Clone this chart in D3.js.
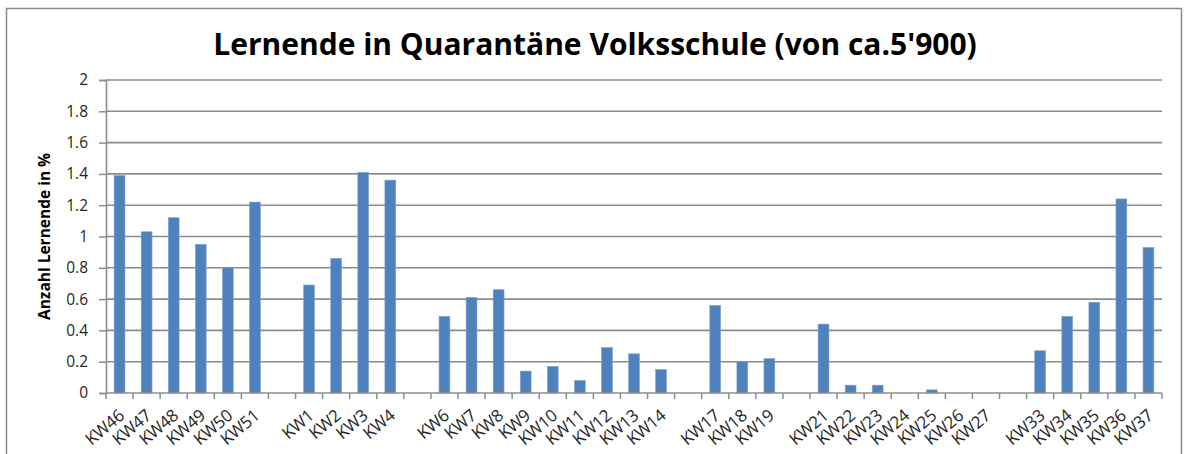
<!DOCTYPE html>
<html>
<head>
<meta charset="utf-8">
<script src="https://cdn.jsdelivr.net/npm/d3@7"></script>
<style>
  body { margin: 0; background: #fff; }
  text { font-family: "Open Sans", sans-serif; }
</style>
</head>
<body>
<svg id="chart" width="1186" height="454"></svg>
<script>
// categories (empty string = gap slot in the original sheet)
const weeks = ["KW46", "KW47", "KW48", "KW49", "KW50", "KW51", "",
    "KW1", "KW2", "KW3", "KW4", "",
    "KW6", "KW7", "KW8", "KW9", "KW10", "KW11", "KW12", "KW13", "KW14", "",
    "KW17", "KW18", "KW19", "",
    "KW21", "KW22", "KW23", "KW24", "KW25", "KW26", "KW27", "",
    "KW33", "KW34", "KW35", "KW36", "KW37"];
const shares = [1.39, 1.03, 1.12, 0.95, 0.80, 1.22, null,
    0.69, 0.86, 1.41, 1.36, null,
    0.49, 0.61, 0.66, 0.14, 0.17, 0.08, 0.29, 0.25, 0.15, null,
    0.56, 0.20, 0.22, null,
    0.44, 0.05, 0.05, 0, 0.02, 0, 0, null,
    0.27, 0.49, 0.58, 1.24, 0.93];
const yTicks = [0, 0.2, 0.4, 0.6, 0.8, 1, 1.2, 1.4, 1.6, 1.8, 2];

const title = "Lernende in Quarantäne Volksschule (von ca.5'900)";
const yLabel = "Anzahl Lernende in %";

const svg = d3.select("#chart");
const plot = { left: 106, right: 1162, top: 80, bottom: 393 };
const gridColor = "#8c8c8c";

// outer frame
svg.append("rect")
    .attr("x", 6.5).attr("y", 8.5)
    .attr("width", 1175).attr("height", 450)
    .attr("fill", "none")
    .attr("stroke", "#8a8a8a")
    .attr("stroke-width", 1.5);

const x = d3.scaleBand()
    .domain(d3.range(weeks.length))
    .range([plot.left, plot.right])
    .paddingInner(0.6)
    .paddingOuter(0.3);

const y = d3.scaleLinear()
    .domain([0, 2])
    .range([plot.bottom, plot.top]);

// gridlines
svg.append("g")
    .selectAll("line")
    .data(yTicks.filter(d => d > 0))
    .join("line")
    .attr("x1", plot.left).attr("x2", plot.right)
    .attr("y1", d => y(d)).attr("y2", d => y(d))
    .attr("stroke", gridColor)
    .attr("stroke-width", 1.6);

// y axis
const yAxis = svg.append("g")
    .attr("transform", `translate(${plot.left},0)`)
    .call(d3.axisLeft(y).tickValues(yTicks).tickSize(7).tickPadding(11).tickFormat(d3.format("")));
yAxis.select(".domain").attr("stroke", gridColor).attr("stroke-width", 1.6);
yAxis.selectAll(".tick line").attr("stroke", gridColor).attr("stroke-width", 1.5);
yAxis.selectAll("text")
    .attr("font-size", 15.5)
    .attr("fill", "#262626")
    .attr("font-family", "Open Sans, sans-serif");

// bars
svg.append("g")
    .selectAll("rect")
    .data(shares.map((v, i) => ({ i, v })).filter(d => d.v !== null && d.v > 0))
    .join("rect")
    .attr("x", d => x(d.i))
    .attr("y", d => y(d.v))
    .attr("width", x.bandwidth())
    .attr("height", d => y(0) - y(d.v))
    .attr("fill", "#4f81bd")
    .attr("stroke", "#7fa3d2")
    .attr("stroke-width", 0.6);

// x axis line
svg.append("line")
    .attr("x1", plot.left).attr("x2", plot.right)
    .attr("y1", plot.bottom).attr("y2", plot.bottom)
    .attr("stroke", gridColor)
    .attr("stroke-width", 1.6);

// tick marks on slot boundaries
const bounds = d3.range(weeks.length + 1).map(i => plot.left + i * x.step());
svg.append("g")
    .selectAll("line")
    .data(bounds)
    .join("line")
    .attr("x1", d => d).attr("x2", d => d)
    .attr("y1", plot.bottom).attr("y2", plot.bottom + 6)
    .attr("stroke", gridColor)
    .attr("stroke-width", 1.5);

// x labels (slightly flatter than 45deg, like the source image)
svg.append("g")
    .selectAll("text")
    .data(weeks.map((w, i) => ({ w, i })).filter(d => d.w !== ""))
    .join("text")
    .attr("transform", d => `translate(${x(d.i) + x.bandwidth() / 2 + 2},${plot.bottom + 20}) rotate(-40)`)
    .attr("text-anchor", "end")
    .attr("dy", "0.35em")
    .attr("font-size", 17)
    .attr("letter-spacing", -0.3)
    .attr("fill", "#262626")
    .text(d => d.w);

// y label
svg.append("text")
    .attr("transform", `translate(50,${(plot.top + plot.bottom) / 2}) rotate(-90)`)
    .attr("text-anchor", "middle")
    .attr("font-size", 15.5)
    .attr("font-weight", "bold")
    .attr("fill", "#000")
    .text(yLabel);

// title
svg.append("text")
    .attr("x", 595)
    .attr("y", 55)
    .attr("text-anchor", "middle")
    .attr("font-size", 30)
    .attr("font-weight", "bold")
    .attr("fill", "#000")
    .text(title);
</script>
</body>
</html>
